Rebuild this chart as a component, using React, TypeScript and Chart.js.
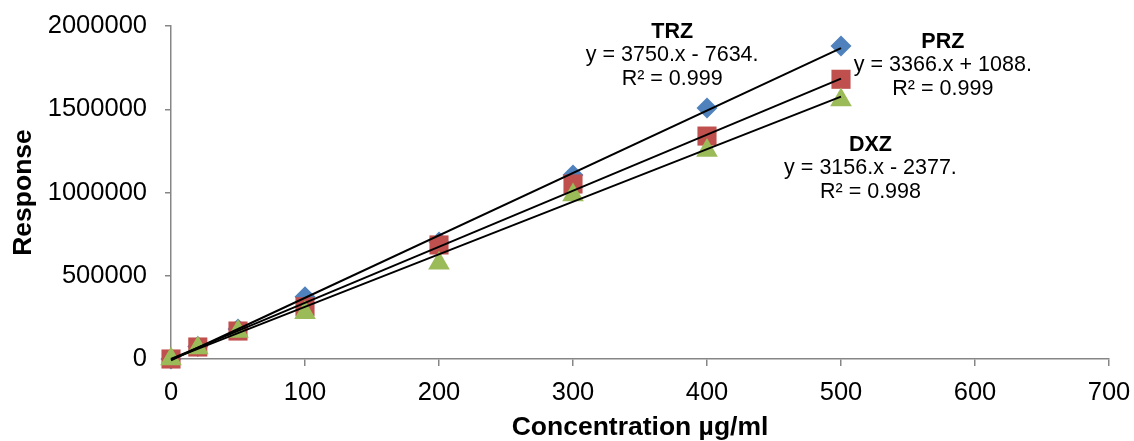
import React, { useEffect, useRef } from "react";
import { Chart, registerables } from "chart.js";

Chart.register(...registerables);

const concentrations = [0, 20, 50, 100, 200, 300, 400, 500];
const trzValues = [0, 75000, 180000, 374000, 703000, 1105000, 1507000, 1880000];
const przValues = [0, 72000, 168000, 314000, 685000, 1051000, 1339000, 1680000];
const dxzValues = [0, 66000, 165000, 278000, 575000, 985000, 1252000, 1555000];

const seriesNames = ["TRZ", "PRZ", "DXZ"];
const slopes = [3750, 3366, 3156];
const intercepts = [-7634, 1088, -2377];
const equations = ["y = 3750.x - 7634.", "y = 3366.x + 1088.", "y = 3156.x - 2377."];
const r2Labels = ["R² = 0.999", "R² = 0.999", "R² = 0.998"];
const labelAnchorX = [374, 576, 522];
const labelAnchorY = [1964000, 1904000, 1285000];
const trendRange = [0, 500];

const xTicks = [0, 100, 200, 300, 400, 500, 600, 700];
const yTicks = [0, 500000, 1000000, 1500000, 2000000];

const FONT = "'Liberation Sans', Arial, sans-serif";

const annotationPlugin = {
  id: "eqLabels",
  afterDatasetsDraw(chart: any) {
    const ctx = chart.ctx;
    const xs = chart.scales.x;
    const ys = chart.scales.y;
    ctx.save();
    ctx.fillStyle = "#000";
    ctx.textAlign = "center";
    ctx.textBaseline = "middle";
    for (let i = 0; i < seriesNames.length; i++) {
      const px = xs.getPixelForValue(labelAnchorX[i]);
      const py = ys.getPixelForValue(labelAnchorY[i]);
      ctx.font = `bold 21.5px ${FONT}`;
      ctx.fillText(seriesNames[i], px, py);
      ctx.font = `21.5px ${FONT}`;
      ctx.fillText(equations[i], px, py + 23);
      ctx.fillText(r2Labels[i], px, py + 47);
    }
    ctx.restore();
  },
};

export default function App() {
  const canvasRef = useRef<HTMLCanvasElement | null>(null);

  useEffect(() => {
    const canvas = canvasRef.current;
    if (!canvas) return;

    const pts = (vals: number[]) => concentrations.map((c, i) => ({ x: c, y: vals[i] }));
    const trend = (i: number) =>
      trendRange.map((x) => ({ x, y: slopes[i] * x + intercepts[i] }));

    const chart = new Chart(canvas, {
      type: "scatter",
      data: {
        datasets: [
          { label: "TRZ fit", data: trend(0), showLine: true, borderColor: "#000", borderWidth: 2, pointRadius: 0, order: 0, clip: false },
          { label: "PRZ fit", data: trend(1), showLine: true, borderColor: "#000", borderWidth: 2, pointRadius: 0, order: 0, clip: false },
          { label: "DXZ fit", data: trend(2), showLine: true, borderColor: "#000", borderWidth: 2, pointRadius: 0, order: 0, clip: false },
          {
            label: "DXZ", data: pts(dxzValues), showLine: false, pointStyle: "triangle", pointRadius: 12.5,
            backgroundColor: "#9BBB59", borderColor: "#9BBB59", borderWidth: 0, order: 1, clip: false,
          },
          {
            label: "PRZ", data: pts(przValues), showLine: false, pointStyle: "rect", pointRadius: 13.5,
            backgroundColor: "#C0504D", borderColor: "#C0504D", borderWidth: 0, order: 2, clip: false,
          },
          {
            label: "TRZ", data: pts(trzValues), showLine: false, pointStyle: "rectRot", pointRadius: 10.5,
            backgroundColor: "#4F81BD", borderColor: "#4F81BD", borderWidth: 0, order: 3, clip: false,
          },
        ],
      },
      options: {
        responsive: false,
        animation: false,
        events: [],
        layout: { autoPadding: false, padding: { top: 26, right: 25, bottom: 0, left: 0 } },
        plugins: { legend: { display: false }, tooltip: { enabled: false } },
        scales: {
          x: {
            type: "linear",
            min: xTicks[0],
            max: xTicks[xTicks.length - 1],
            afterBuildTicks: (s: any) => { s.ticks = xTicks.map((v) => ({ value: v })); },
            afterFit: (s: any) => { s.height = 82; s.paddingLeft = 0; s.paddingRight = 0; },
            ticks: { color: "#000", font: { family: FONT, size: 25.5 }, padding: 12, maxRotation: 0 },
            grid: { display: true, drawOnChartArea: false, tickLength: 7, color: "#868686", lineWidth: 1.5 },
            border: { display: true, color: "#868686", width: 1.5 },
            title: {
              display: true, text: "Concentration µg/ml", color: "#000",
              font: { family: FONT, size: 26.5, weight: "bold", lineHeight: 1 }, padding: 0,
            },
          },
          y: {
            type: "linear",
            min: yTicks[0],
            max: yTicks[yTicks.length - 1],
            afterBuildTicks: (s: any) => { s.ticks = yTicks.map((v) => ({ value: v })); },
            afterFit: (s: any) => { s.width = 171; s.paddingTop = 0; s.paddingBottom = 0; },
            ticks: { color: "#000", font: { family: FONT, size: 25.5 }, padding: 18, callback: (v: any) => String(v) },
            grid: { display: true, drawOnChartArea: false, tickLength: 6, color: "#868686", lineWidth: 1.5 },
            border: { display: true, color: "#868686", width: 1.5 },
            title: {
              display: true, text: "Response", color: "#000",
              font: { family: FONT, size: 26.5, weight: "bold" }, padding: { top: 8, bottom: 0 },
            },
          },
        },
      },
      plugins: [annotationPlugin],
    } as any);

    return () => chart.destroy();
  }, []);

  return (
    <div style={{ position: "absolute", left: 0, top: 0, width: 1134, height: 441, background: "#fff" }}>
      <canvas ref={canvasRef} width={1134} height={441} style={{ width: 1134, height: 441, display: "block" }} />
    </div>
  );
}
